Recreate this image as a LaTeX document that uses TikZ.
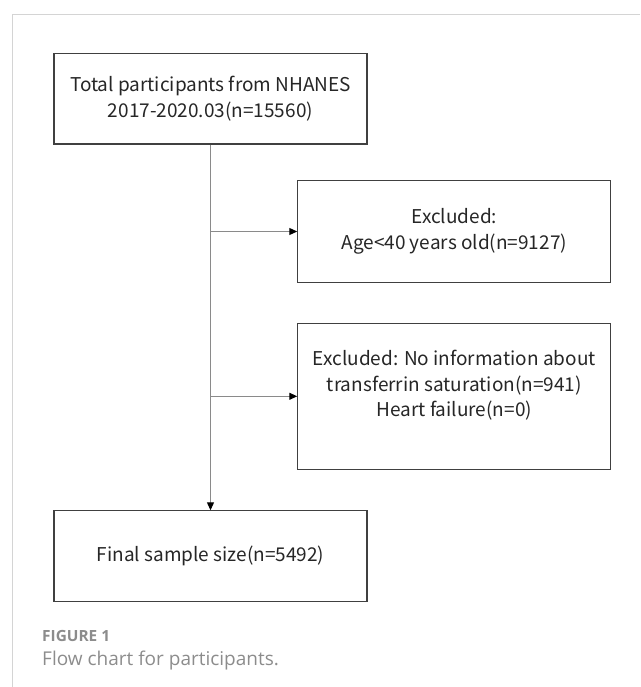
\documentclass[tikz,border=0pt]{standalone}
\usepackage{fontspec}
\setmainfont{Noto Sans CJK SC}
\newfontfamily\capfont{Open Sans}
\usetikzlibrary{arrows.meta}
\definecolor{boxline}{HTML}{404040}
\definecolor{conn}{HTML}{8A8A8A}
\definecolor{frame}{HTML}{D4D4D4}
\definecolor{captxt}{HTML}{8C8C8C}
\begin{document}
\begin{tikzpicture}[x=1pt,y=-1pt,
  flowbox/.style={draw=boxline,line width=1.1pt,minimum width=313pt,inner sep=0pt,align=center,
    font=\fontsize{19}{25.5}\selectfont,text=black!85},
  conline/.style={draw=conn,line width=1.1pt},
  tip/.style={-{Triangle[length=8pt,width=7pt,color=black]}}]
\useasboundingbox (0,0) rectangle (640,687);
\draw[frame,line width=1pt] (12.3,687) -- (12.3,14.3) -- (640,14.3);
\node[flowbox,minimum height=90.7pt] (top) at (210.5,98.7) {Total participants from NHANES\\2017-2020.03(n=15560)};
\node[flowbox,minimum height=102.4pt] (ex1) at (454.3,231.5) {Excluded:\\Age<40 years old(n=9127)};
\node[flowbox,minimum height=146pt] (ex2) at (454.3,396.3) {Excluded: No information about\\transferrin saturation(n=941)\\Heart failure(n=0)\\\mbox{}};
\node[flowbox,minimum height=90.3pt] (fin) at (210.5,556) {Final sample size(n=5492)};
\coordinate (b1) at (top.south |- ex1.west);
\coordinate (b2) at (top.south |- ex2.west);
\draw[conline,tip] (top.south) -- (fin.north);
\draw[conline,tip] (b1) -- (ex1.west);
\draw[conline,tip] (b2) -- (ex2.west);
\node[anchor=base west,inner sep=0pt,text=captxt,font=\capfont\fontsize{15.4}{18}\selectfont\bfseries] (figlab) at (42,641) {FIGURE 1};
\node[anchor=base west,inner sep=0pt,text=captxt,font=\capfont\fontsize{19}{22}\selectfont] (cap) at (42,665.7) {Flow chart for participants.};
\end{tikzpicture}
\end{document}
